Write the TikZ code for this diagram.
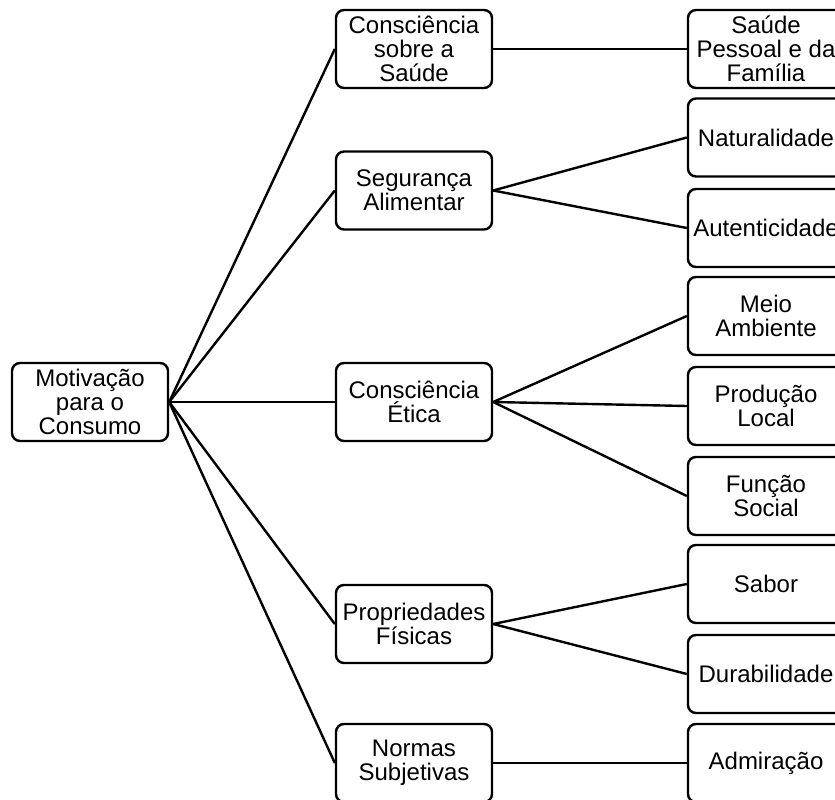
\documentclass[tikz,border=0pt]{standalone}
\usepackage{fontspec}
\setmainfont{Liberation Sans}
\begin{document}
\begin{tikzpicture}[x=1pt,y=-1pt,
  box/.style={draw, line width=2.4pt, rounded corners=8pt, minimum width=156pt, minimum height=78pt, align=center, inner sep=0pt, font=\fontsize{24}{23.8}\selectfont},
  link/.style={line width=2.4pt}]
\useasboundingbox (0,0) rectangle (835,800);
\node[box] (root) at (90,402) {Motivação\\para o\\Consumo};
\node[box] (a) at (414,49) {Consciência\\sobre a\\Saúde};
\node[box] (b) at (414,190.5) {Segurança\\Alimentar};
\node[box] (c) at (414,402) {Consciência\\Ética};
\node[box] (d) at (414,624) {Propriedades\\Físicas};
\node[box] (e) at (414,763) {Normas\\Subjetivas};
\node[box] (a1) at (766,49) {Saúde\\Pessoal e da\\Família};
\node[box] (b1) at (766,137.5) {Naturalidade};
\node[box] (b2) at (766,228) {Autenticidade};
\node[box] (c1) at (766,316) {Meio\\Ambiente};
\node[box] (c2) at (766,406) {Produção\\Local};
\node[box] (c3) at (766,496) {Função\\Social};
\node[box] (d1) at (766,584) {Sabor};
\node[box] (d2) at (766,674) {Durabilidade};
\node[box] (e1) at (766,763) {Admiração};
\foreach \t in {a,b,c,d,e} \draw[link] (root.east) -- (\t.west);
\draw[link] (a.east) -- (a1.west);
\draw[link] (b.east) -- (b1.west);
\draw[link] (b.east) -- (b2.west);
\draw[link] (c.east) -- (c1.west);
\draw[link] (c.east) -- (c2.west);
\draw[link] (c.east) -- (c3.west);
\draw[link] (d.east) -- (d1.west);
\draw[link] (d.east) -- (d2.west);
\draw[link] (e.east) -- (e1.west);
\end{tikzpicture}
\end{document}
